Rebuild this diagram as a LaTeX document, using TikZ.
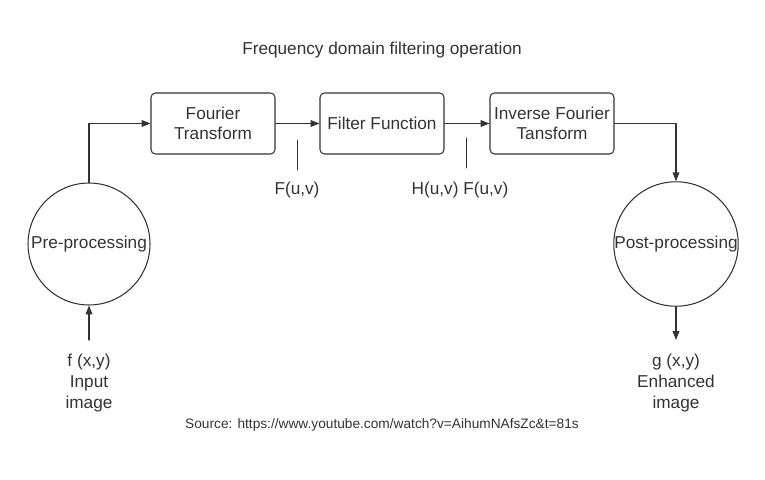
\documentclass[tikz,border=0pt]{standalone}
\usepackage{fontspec}
\setmainfont{Liberation Sans}
\usepackage{tikz}
\usetikzlibrary{arrows.meta}
\definecolor{inkgray}{HTML}{333333}

\begin{document}
\begin{tikzpicture}[line cap=round,line join=round,>={Triangle[length=5pt,width=3.8pt]},x=0.02cm,y=-0.02cm,
	color=inkgray,line width=0.6pt,
	font=\fontsize{9.8}{11.6}\selectfont,
	blockbox/.style={draw,rounded corners=2.5pt,minimum width=2.48cm,minimum height=1.22cm,align=center,inner sep=1pt},
	stagecirc/.style={draw,circle,minimum size=2.44cm,inner sep=0pt},
	lbl/.style={align=center,font=\fontsize{9.8}{12}\selectfont}]
	\useasboundingbox (0,0) rectangle (765,480);
	% title and source
	\node (title) at (382,50) {Frequency domain filtering operation};
	\node[font=\fontsize{7.8}{9}\selectfont] (src) at (382,425) {Source: https://www.youtube.com/watch?v=AihumNAfsZc\&t=81s};
	% blocks
	\node[blockbox] (ft) at (213,123.5) {Fourier\\Transform};
	\node[blockbox] (ff) at (382,123.5) {Filter Function};
	\node[blockbox] (ift) at (552,123.5) {Inverse Fourier\\Tansform};
	\node[stagecirc] (pre) at (89,244) {Pre-processing};
	\node[stagecirc] (post) at (676,244) {Post-processing};
	% labels
	\node[lbl] (fin) at (89,383) {f (x,y)\\ Input\\image};
	\node[lbl] (gout) at (676,383) {g (x,y)\\Enhanced\\image};
	\node (fuv) at (297,190) {F(u,v)};
	\node (hfuv) at (460,190) {H(u,v) F(u,v)};
	\coordinate (inpt) at (89,340);
	\coordinate (outpt) at (676,340);
	\coordinate (tka) at (297,140);
	\coordinate (tkb) at (297,170);
	\coordinate (tkc) at (466,138);
	\coordinate (tkd) at (466,168);
	% connectors
	\draw[->] (pre.north) |- (ft.west);
	\draw[->] (ft.east) -- (ff.west);
	\draw[->] (ff.east) -- (ift.west);
	\draw[->] (ift.east) -| (post.north);
	\draw[->] (inpt) -- (pre.south);
	\draw[->] (post.south) -- (outpt);
	\draw[line width=0.4pt] (tka) -- (tkb);
	\draw[line width=0.4pt] (tkc) -- (tkd);
\end{tikzpicture}
\end{document}
